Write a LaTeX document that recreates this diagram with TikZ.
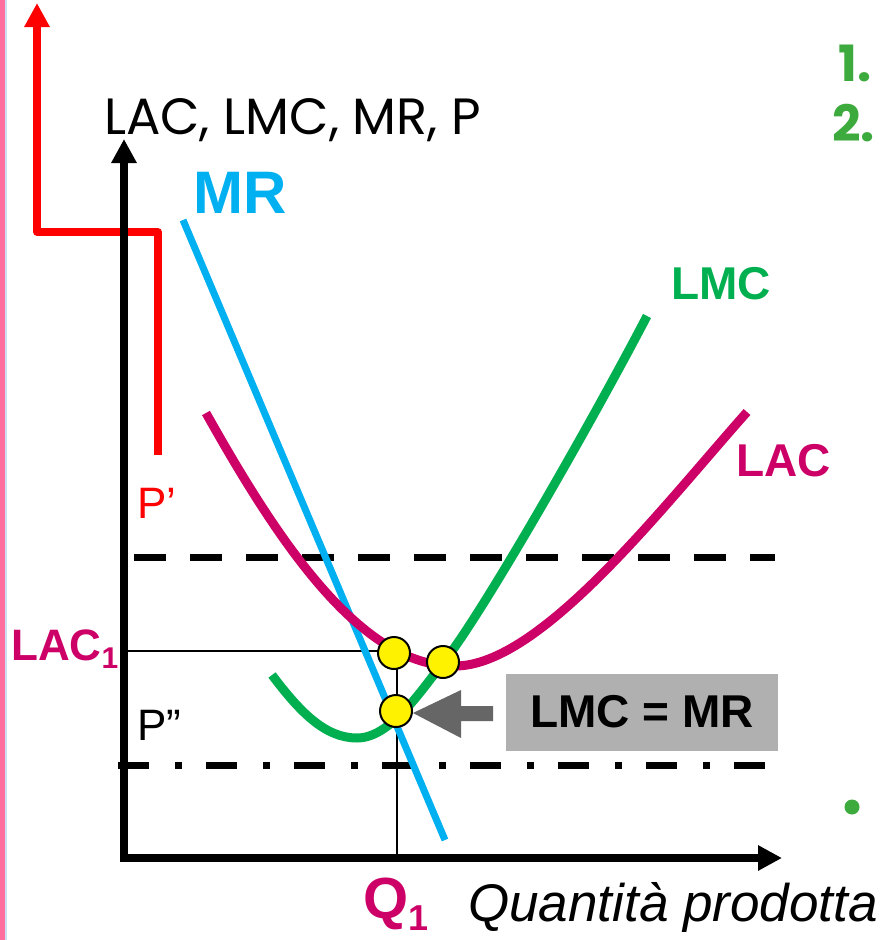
\documentclass[tikz,border=0pt]{standalone}
\usepackage{fontspec}
\setmainfont{Liberation Sans}
\newfontfamily\geo{Poppins}
\usetikzlibrary{arrows.meta}
\definecolor{cred}{HTML}{FF0000}
\definecolor{cblue}{HTML}{00B0F0}
\definecolor{cgreen}{HTML}{00B050}
\definecolor{cmag}{HTML}{CC0066}
\definecolor{cpink}{HTML}{FF6E9E}
\definecolor{clblue}{HTML}{C8E0F0}
\definecolor{cgray}{HTML}{B0B0B0}
\definecolor{cdgray}{HTML}{666666}
\definecolor{cbullet}{HTML}{3DAA3D}
\newcommand{\fs}[1]{\fontsize{#1}{#1}\selectfont}
\tikzset{
  axisline/.style={line width=8pt, -{Triangle[length=24pt,width=24pt]}},
  curve/.style={line width=9pt, line cap=butt},
  thinline/.style={line width=1.3pt, black},
  dot/.style={circle, fill=yellow, draw=black, line width=2pt, minimum size=32pt, inner sep=0pt},
  lbl/.style={anchor=base west, inner sep=0pt}
}
\begin{document}
\begin{tikzpicture}[x=1pt,y=-1pt]
\useasboundingbox (0,0) rectangle (880,940);
\fill[white] (0,0) rectangle (880,940);
% left strip
\fill[cpink] (0,0) rectangle (5,940);
\fill[clblue] (5,0) rectangle (7,940);
% red path
\coordinate (r1) at (158,455);
\coordinate (r2) at (158,232);
\coordinate (r3) at (37,232);
\coordinate (r4) at (37,3);
\draw[cred, line width=7.5pt, line join=round, -{Triangle[length=24pt,width=24pt]}] (r1) -- (r2) -- (r3) -- (r4);
% axes
\coordinate (O) at (124,858);
\coordinate (Ytip) at (124,139);
\coordinate (Xstart) at (120,858);
\coordinate (Xtip) at (782,858);
\draw[axisline] (O) -- (Ytip);
\draw[axisline] (Xstart) -- (Xtip);
% dashed and dash-dot lines
\coordinate (d1) at (134,557);
\coordinate (d2) at (775,557);
\draw[line width=7pt, dash pattern=on 32pt off 24pt] (d1) -- (d2);
\coordinate (dd1) at (118,765);
\coordinate (dd2) at (766,765);
\draw[line width=7pt, dash pattern=on 31pt off 26pt on 7pt off 24pt] (dd1) -- (dd2);
% thin lines
\coordinate (h0) at (124,651);
\coordinate (h1) at (395,651);
\coordinate (v0) at (397,653);
\coordinate (v1) at (397,858);
\draw[thinline] (h0) -- (h1);
\draw[thinline] (v0) -- (v1);
% MR line
\coordinate (mr1) at (183,220);
\coordinate (mr2) at (445,840);
\draw[cblue, line width=7pt] (mr1) -- (mr2);
% LAC curve
\coordinate (lac0) at (206,413);
\coordinate (lacmin) at (455,666);
\coordinate (lac1) at (747,412);
\draw[cmag, curve] (lac0) .. controls (280,545) and (362,667) .. (lacmin)
  .. controls (540,666) and (660,510) .. (lac1);
% LMC curve
\coordinate (lmc0) at (272,675);
\coordinate (lmcmin) at (357,738);
\coordinate (lmcm) at (443,663);
\coordinate (lmc1) at (647,316);
\draw[cgreen, curve] (lmc0) .. controls (300,712) and (325,738) .. (lmcmin)
  .. controls (390,738) and (420,692) .. (lmcm)
  .. controls (483,613) and (595,416) .. (lmc1);
% dots
\node[dot] (e1) at (394,653) {};
\node[dot] (e2) at (443,662) {};
\node[dot] (e3) at (396,711) {};
% gray arrow
\fill[cdgray] (413,713) -- (461,690) -- (461,706) -- (493,706) -- (493,721) -- (461,721) -- (461,738) -- cycle;
% box
\node[fill=cgray, minimum width=272pt, minimum height=77pt, inner sep=0pt, font=\fs{46}\bfseries] (box) at (642,712) {LMC = MR};
% labels
\node[lbl, font=\geo\fs{51}] (ylab) at (104,134) {LAC, LMC, MR, P};
\node[lbl, font=\fs{60}\bfseries, text=cblue] (mrlab) at (193,213) {MR};
\node[lbl, font=\fs{46}\bfseries, text=cgreen] (lmclab) at (671,299) {LMC};
\node[lbl, font=\fs{46}\bfseries, text=cmag] (laclab) at (736,476) {LAC};
\node[lbl, font=\fs{44}, text=cred] (p1) at (137,518) {P’};
\node[lbl, font=\fs{44}] (p2) at (137,740) {P”};
\node[lbl, font=\fs{44}\bfseries, text=cmag] (lac1) at (11,660) {LAC\raisebox{-8pt}{\fs{30}1}};
\node[lbl, font=\fs{58}\bfseries, text=cmag] (q1) at (363,918) {Q\raisebox{-12pt}{\fs{36}1}};
\node[lbl, font=\fs{53}\itshape] (qlab) at (468,921) {Quantità prodotta};
\node[lbl, font=\geo\fs{50}\bfseries, text=cbullet] (n1) at (838,81) {1.};
\node[lbl, font=\geo\fs{50}\bfseries, text=cbullet] (n2) at (832,141) {2.};
\fill[cbullet] (852,807) circle (7.5pt);
\end{tikzpicture}
\end{document}
